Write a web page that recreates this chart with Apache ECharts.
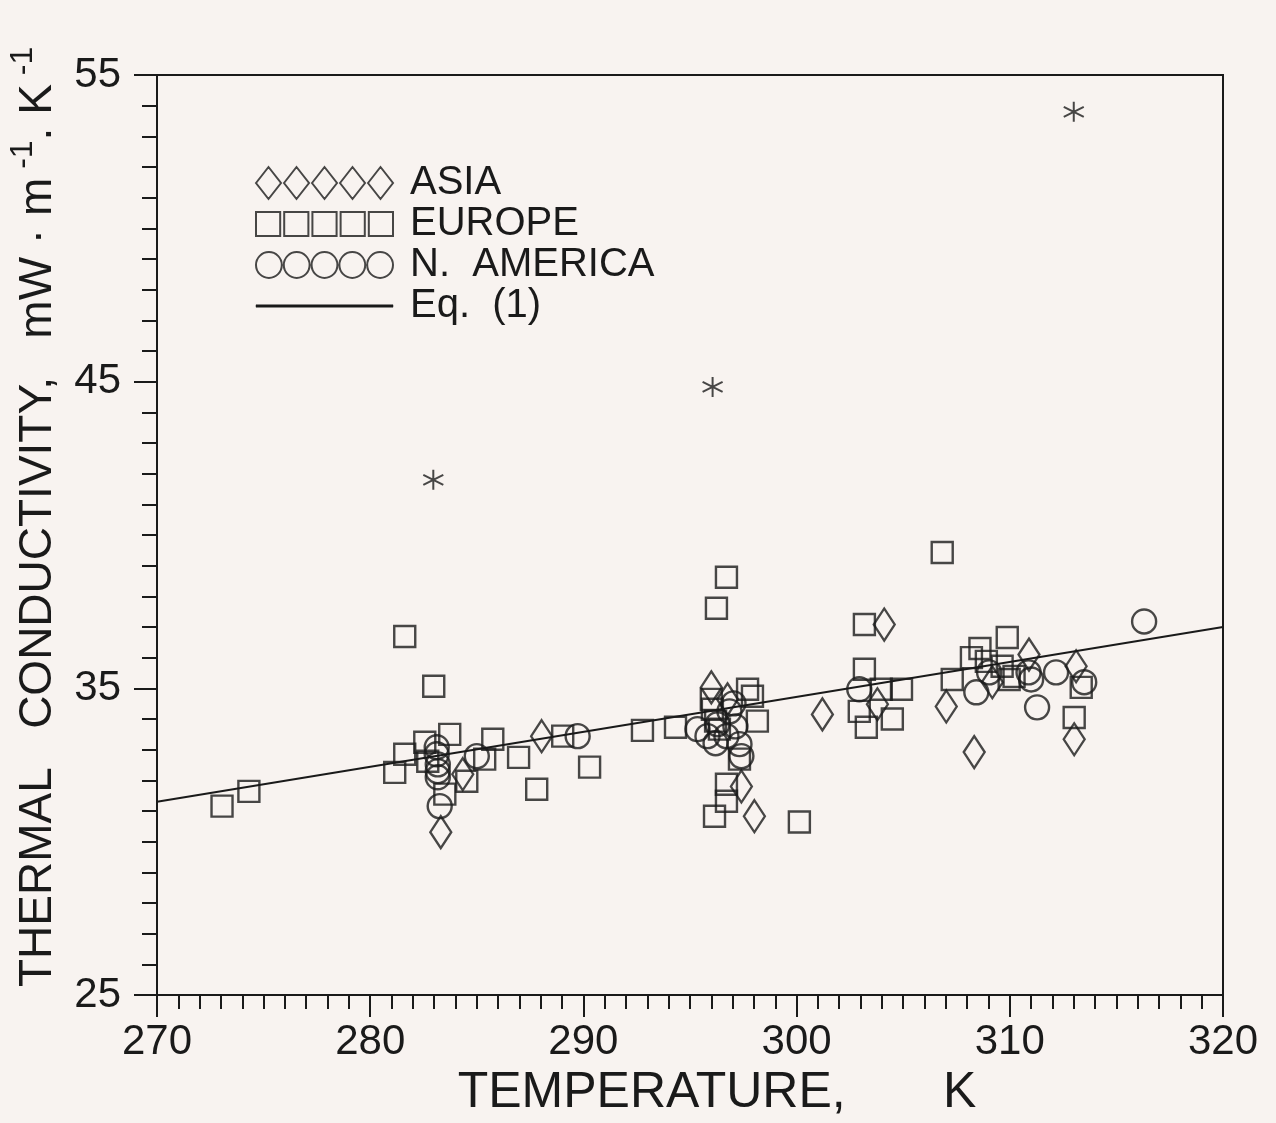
<!DOCTYPE html>
<html>
<head>
<meta charset="utf-8">
<script src="https://cdn.jsdelivr.net/npm/echarts@6/dist/echarts.min.js"></script>
<style>
html,body{margin:0;padding:0;background:#f8f3f0;}
#c{width:1276px;height:1123px;}
</style>
</head>
<body>
<div id="c"></div>
<script>
// ---- data (temperature K, thermal conductivity mW/(m K)) ----
var asiaData = [
  [283.31,30.31],[284.34,32.2],[288.04,33.44],[296.0,35.03],[296.76,34.64],
  [297.41,31.8],[298.02,30.83],[301.21,34.15],[304.11,37.08],[303.79,34.48],
  [307.02,34.41],[308.33,32.92],[309.18,35.2],[310.9,36.1],[313.11,35.72],
  [313.02,33.34]
];
var europeData = [
  [273.05,31.16],[274.31,31.64],[281.15,32.26],[281.62,36.69],[281.62,32.85],
  [282.56,33.24],[282.7,32.62],[282.98,35.07],[283.73,33.5],[283.5,31.55],
  [284.53,31.97],[285.37,32.69],[285.75,33.34],[286.96,32.75],[287.81,31.71],
  [289.03,33.44],[290.29,32.43],[292.77,33.63],[294.32,33.73],[296.0,34.64],
  [296.05,34.32],[296.2,33.93],[296.38,33.67],[297.7,34.97],[297.93,34.74],
  [298.16,33.93],[297.32,32.69],[296.71,38.62],[296.24,37.61],[296.71,31.87],
  [296.71,31.32],[296.15,30.83],[300.13,30.64],[303.18,37.08],[303.18,35.62],
  [303.97,34.97],[304.92,34.97],[302.94,34.25],[303.27,33.73],[304.49,34.0],
  [306.83,39.43],[307.3,35.29],[308.2,36.0],[308.6,36.3],[309.88,36.66],
  [309.64,35.72],[309.97,35.29],[308.9,35.88],[310.2,35.39],[313.35,35.03],
  [313.02,34.05]
];
var americaData = [
  [283.12,33.08],[283.12,32.85],[283.17,32.52],[283.17,32.3],[283.17,32.1],
  [283.26,31.16],[285.0,32.79],[289.73,33.44],[295.35,33.67],[295.82,33.44],
  [296.29,33.83],[296.85,34.25],[297.13,33.76],[297.32,33.18],[297.41,32.79],
  [296.2,33.21],[296.71,33.44],[297.04,34.51],[302.94,34.97],[308.43,34.87],
  [309.03,35.52],[310.88,35.52],[311.0,35.29],[312.17,35.52],[311.28,34.38],
  [313.49,35.2],[316.3,37.18]
];
var outlierData = [[282.96,41.8],[296.06,44.83],[313.0,53.8]];
var eqData = [[270,31.3],[320,37.0]];
var seriesNames = ['ASIA','EUROPE','N.  AMERICA','Eq.  (1)'];
var yLabelValues = [25,35,45,55];

var INK = '#1a1a1a';
var FONT = 'Liberation Sans';

function repeatPath(fn){var s='';for(var i=0;i<5;i++){s+=fn(i*28);}return 'path://'+s;}
var diamondIcon = repeatPath(function(o){return 'M'+(o)+' 16L'+(o+12.5)+' 0L'+(o+25)+' 16L'+(o+12.5)+' 32Z';});
var squareIcon = repeatPath(function(o){return 'M'+(o+1)+' 4L'+(o+25)+' 4L'+(o+25)+' 28L'+(o+1)+' 28Z';});
var circleIcon = repeatPath(function(o){return 'M'+(o)+' 16A13 13 0 1 0 '+(o+26)+' 16A13 13 0 1 0 '+(o)+' 16Z';});
var lineIcon = 'path://M7 15L125 15L125 17L7 17Z';

var hollow = {color:'rgba(0,0,0,0)', borderColor:INK, borderWidth:2.4};

var chart = echarts.init(document.getElementById('c'));
chart.setOption({
  backgroundColor:'#f8f3f0',
  animation:false,
  textStyle:{fontFamily:FONT,color:INK},
  grid:{left:157,top:75,right:53,bottom:128,outerBoundsMode:'none',containLabel:false,
        show:true,borderColor:INK,borderWidth:2,backgroundColor:'transparent'},
  legend:{
    left:255, top:163, padding:0, orient:'vertical', itemWidth:137, itemHeight:32, itemGap:1,
    textStyle:{fontFamily:FONT,fontSize:40,color:INK,lineHeight:36,padding:[0,0,0,12]},
    data:[
      {name:seriesNames[0],icon:diamondIcon},
      {name:seriesNames[1],icon:squareIcon},
      {name:seriesNames[2],icon:circleIcon},
      {name:seriesNames[3],icon:lineIcon,itemStyle:{color:INK,borderColor:INK,borderWidth:0.5}}
    ]
  },
  xAxis:{
    type:'value', min:270, max:320, interval:10,
    name:'TEMPERATURE,       K', nameLocation:'middle', nameGap:68,
    nameTextStyle:{fontFamily:FONT,fontSize:50,color:INK,padding:[0,0,0,54],verticalAlign:'top'},
    axisLine:{lineStyle:{color:INK,width:2}},
    axisTick:{length:22,lineStyle:{color:INK,width:2}},
    minorTick:{show:true,splitNumber:10,length:14,lineStyle:{color:INK,width:2}},
    axisLabel:{fontFamily:FONT,fontSize:42,color:INK,margin:26},
    splitLine:{show:false}
  },
  yAxis:[{
    type:'value', min:25, max:55,
    axisLine:{lineStyle:{color:INK,width:2}},
    axisTick:{length:23,customValues:yLabelValues,lineStyle:{color:INK,width:2}},
    axisLabel:{fontFamily:FONT,fontSize:42,color:INK,margin:36,customValues:yLabelValues},
    splitLine:{show:false}
  },{
    type:'value', min:25, max:55, interval:1, position:'left',
    axisLine:{show:false},
    axisTick:{length:15,lineStyle:{color:INK,width:2}},
    axisLabel:{show:false},
    splitLine:{show:false}
  }],
  graphic:[{
    type:'text', x:34, y:987, rotation:Math.PI/2,
    style:{
      text:'{n|THERMAL   CONDUCTIVITY,   mW · m}{s| -1}{n|. K}{s| -1}',
      fill:INK, align:'left', verticalAlign:'middle',
      rich:{
        n:{fontFamily:FONT,fontSize:46,fill:INK,lineHeight:54,verticalAlign:'bottom'},
        s:{fontFamily:FONT,fontSize:32,fill:INK,lineHeight:54,verticalAlign:'top'}
      }
    }
  }],
  series:[
    {name:seriesNames[3],type:'line',data:eqData,symbol:'none',showSymbol:false,lineStyle:{color:INK,width:2},itemStyle:{color:INK},z:1},
    {name:seriesNames[0],type:'scatter',data:asiaData,symbol:'diamond',symbolSize:[21,32],itemStyle:hollow,z:3},
    {name:seriesNames[1],type:'scatter',data:europeData,symbol:'rect',symbolSize:21,itemStyle:hollow,z:3},
    {name:seriesNames[2],type:'scatter',data:americaData,symbol:'circle',symbolSize:24,itemStyle:hollow,z:3},
    {name:'outliers',type:'scatter',data:outlierData,symbol:'path://M8 0L8 16M1 4L15 12M1 12L15 4',symbolSize:20,
     itemStyle:{color:'rgba(0,0,0,0)',borderColor:INK,borderWidth:2},z:3}
  ]
});
</script>
</body>
</html>
